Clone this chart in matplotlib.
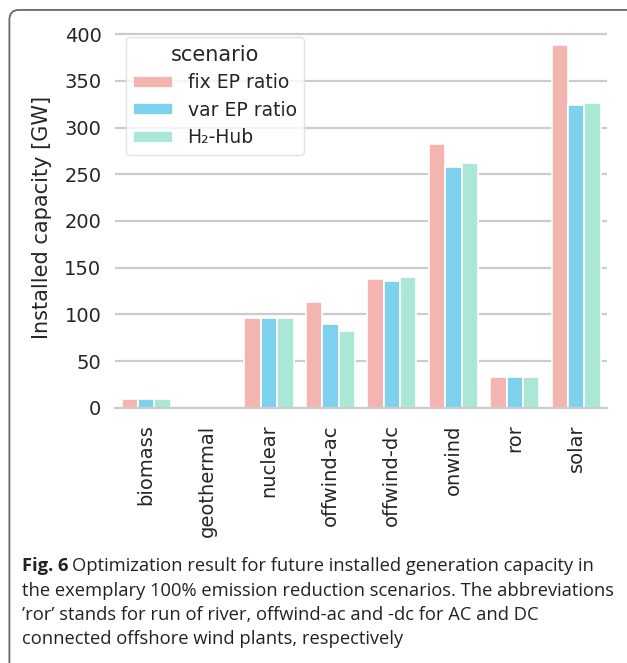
import numpy as np
import matplotlib
matplotlib.use('Agg')
import matplotlib.pyplot as plt
from matplotlib.patches import FancyBboxPatch

plt.rcParams['font.family'] = ['DejaVu Sans']

# data
carriers = ['biomass', 'geothermal', 'nuclear', 'offwind-ac',
            'offwind-dc', 'onwind', 'ror', 'solar']
fix_ep = [9, 0, 96, 113, 138, 282, 33, 388]
var_ep = [9, 0, 96, 90, 136, 258, 33, 324]
h2_hub = [9, 0, 96, 82, 140, 262, 33, 326]
scenarios = ['fix EP ratio', 'var EP ratio', 'H\u2082-Hub']
colors = ['#f4b4b0', '#7ed1ec', '#aae7d7']

fig = plt.figure(figsize=(6.27, 6.63), dpi=100)

# frame around figure + caption
frame = FancyBboxPatch((0.015, -0.05), 1.2, 1.035, transform=fig.transFigure,
                       boxstyle='round,pad=0,rounding_size=0.015',
                       fc='none', ec='#666666', lw=1.3)
fig.patches.append(frame)

ax = fig.add_axes([0.184, 0.385, 0.784, 0.574])
x = np.arange(len(carriers))
w = 0.8 / 3
for i, vals in enumerate([fix_ep, var_ep, h2_hub]):
    ax.bar(x + (i - 1) * w, vals, width=w, color=colors[i],
           edgecolor='white', linewidth=1.2, label=scenarios[i], zorder=2)

ax.set_xlim(-0.5, len(carriers) - 0.5)
ax.set_ylim(0, 407.5)
ax.set_yticks(np.arange(0, 401, 50))
ax.set_xticks(x)
ax.set_xticklabels(carriers, rotation=90, fontsize=14, color='#262626')
ax.tick_params(axis='y', labelsize=14, labelcolor='#262626', length=0, pad=10)
ax.tick_params(axis='x', length=0, pad=12)
ax.grid(axis='y', color='#cccccc', lw=1.6, zorder=0)
ax.set_axisbelow(True)
for s in ['top', 'right', 'left']:
    ax.spines[s].set_visible(False)
ax.spines['bottom'].set_color('#cccccc')
ax.spines['bottom'].set_linewidth(1.6)
ax.set_ylabel('Installed capacity [GW]', fontsize=15, color='#262626', labelpad=9)

leg = ax.legend(title='scenario', loc='upper left', fontsize=13.5,
                title_fontsize=15, bbox_to_anchor=(0.0, 1.0),
                borderaxespad=0.55, handlelength=2.1, handleheight=0.6,
                labelspacing=0.45, borderpad=0.4, frameon=True)
leg.get_frame().set_edgecolor('#dddddd')
for t in leg.get_texts():
    t.set_color('#262626')
leg.get_title().set_color('#262626')

cap_font = 'Open Sans'
lines = [
    'Optimization result for future installed generation capacity in',
    'the exemplary 100% emission reduction scenarios. The abbreviations',
    "\u2019ror\u2019 stands for run of river, offwind-ac and -dc for AC and DC",
    'connected offshore wind plants, respectively',
]
cy = 566
t0 = fig.text(0.035, 1 - cy / 663, 'Fig. 6', fontsize=13.2, fontweight='bold',
              family=cap_font, va='center', color='#222222')
fig.canvas.draw()
bb = t0.get_window_extent()
x0 = fig.transFigure.inverted().transform((bb.x1, 0))[0]
fig.text(x0 + 0.006, 1 - cy / 663, lines[0], fontsize=13.2, family=cap_font,
         va='center', color='#222222')
for k, ln in enumerate(lines[1:]):
    fig.text(0.035, 1 - (cy + 24.5 * (k + 1)) / 663, ln, fontsize=13.2,
             family=cap_font, va='center', color='#222222')

fig.savefig('out.png', dpi=100)
